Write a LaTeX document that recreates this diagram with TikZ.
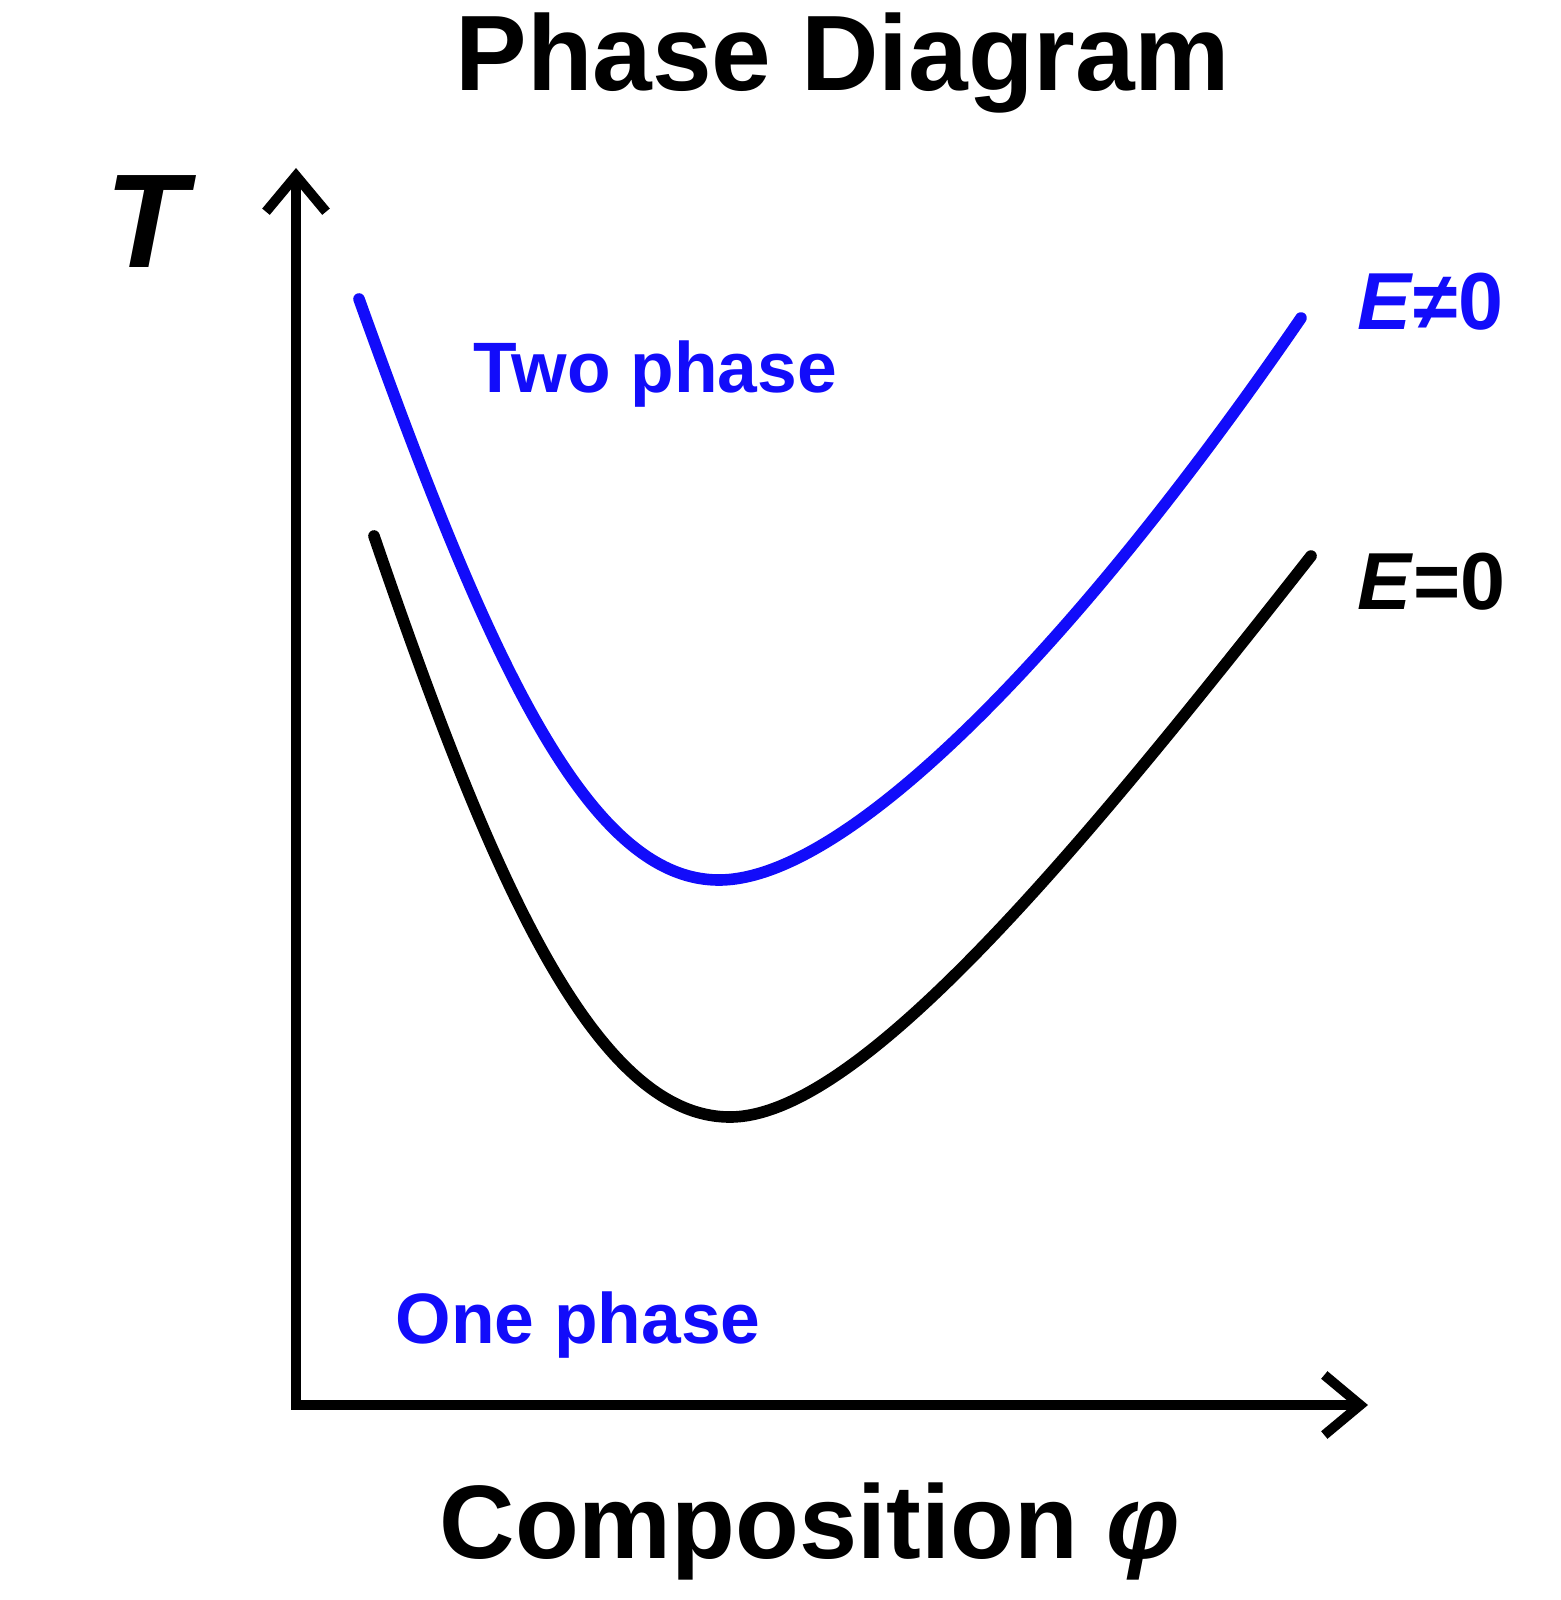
\documentclass[tikz,border=0pt]{standalone}
\usepackage{fontspec}
\setmainfont{Liberation Sans}
\usetikzlibrary{arrows.meta}
\definecolor{pblue}{RGB}{18,12,250}
\tikzset{
  axis/.style={line width=2.8pt, -{Straight Barb[length=0.36cm,width=0.6cm,line width=2.8pt]}},
  curve/.style={line width=3.3pt, line cap=round},
  lbl/.style={inner sep=0pt, font=\bfseries},
}
\begin{document}
\begin{tikzpicture}[x=0.01cm,y=-0.01cm]
\useasboundingbox (0,0) rectangle (1560,1600);
% axes
\coordinate (O) at (296,1405);
\coordinate (ytop) at (296,168);
\coordinate (xend) at (1368,1405);
\draw[axis] (O) -- (ytop);
\draw[axis] ([xshift=-1.4pt]O) -- (xend);
% curves
\coordinate (bs) at (359,299);
\coordinate (bm) at (719,880);
\coordinate (be) at (1301,318);
\coordinate (ks) at (374,536);
\coordinate (km) at (730,1117);
\coordinate (ke) at (1311,556);
\draw[curve, pblue] (bs) .. controls (485,650) and (585,880) .. (bm)
  .. controls (850,880) and (1080,640) .. (be);
\draw[curve, black] (ks) .. controls (485,860) and (590,1117) .. (km)
  .. controls (860,1117) and (1080,850) .. (ke);
% labels
\node[lbl, anchor=base, font=\fontsize{30.5}{37}\selectfont\bfseries] (title) at (843,91) {Phase Diagram};
\node[lbl, anchor=base, font=\fontsize{38}{46}\selectfont\bfseries\itshape] (T) at (146,268) {T};
\node[lbl, anchor=base, text=pblue, font=\fontsize{20.3}{24}\selectfont\bfseries] (two) at (655,392) {Two phase};
\node[lbl, anchor=base, text=pblue, font=\fontsize{20.3}{24}\selectfont\bfseries] (one) at (578,1343) {One phase};
\node[lbl, anchor=base west, text=pblue, font=\fontsize{23}{27}\selectfont\bfseries] (Ene) at (1357,329) {\textit{E}≠0};
\node[lbl, anchor=base west, font=\fontsize{23}{27}\selectfont\bfseries] (Eeq) at (1357,609) {\textit{E}=0};
\node[lbl, anchor=base, font=\fontsize{29.7}{35}\selectfont\bfseries] (xlab) at (810,1558) {Composition \textit{φ}};
\end{tikzpicture}
\end{document}
